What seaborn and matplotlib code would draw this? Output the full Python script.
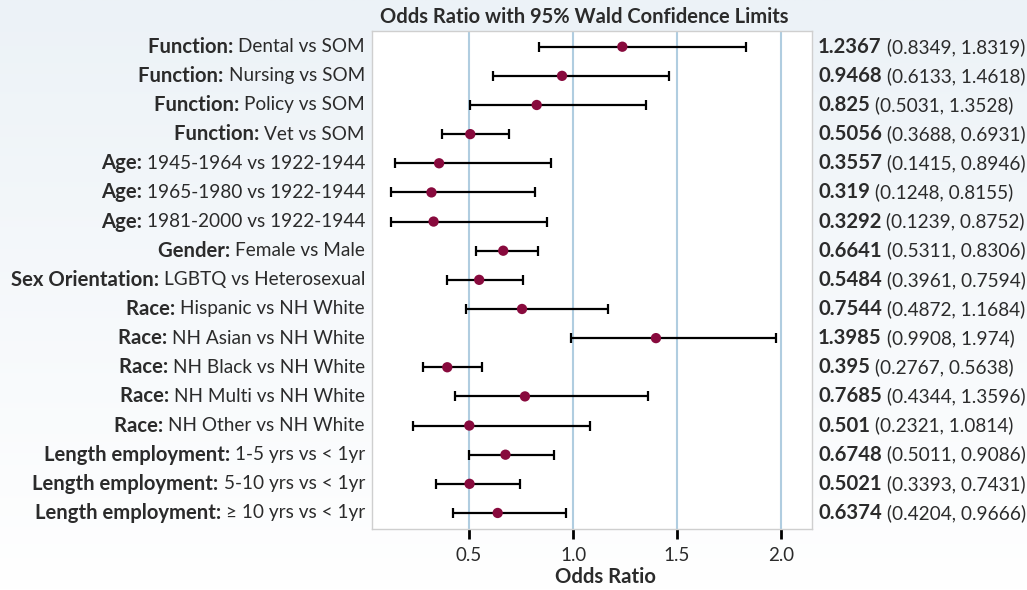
import numpy as np
import pandas as pd
import matplotlib.pyplot as plt
import seaborn as sns

# Data
groups = ["Function:", "Function:", "Function:", "Function:",
          "Age:", "Age:", "Age:", "Gender:", "Sex Orientation:",
          "Race:", "Race:", "Race:", "Race:", "Race:",
          "Length employment:", "Length employment:", "Length employment:"]
comparisons = ["Dental vs SOM", "Nursing vs SOM", "Policy vs SOM", "Vet vs SOM",
               "1945-1964 vs 1922-1944", "1965-1980 vs 1922-1944", "1981-2000 vs 1922-1944",
               "Female vs Male", "LGBTQ vs Heterosexual",
               "Hispanic vs NH White", "NH Asian vs NH White", "NH Black vs NH White",
               "NH Multi vs NH White", "NH Other vs NH White",
               "1-5 yrs vs < 1yr", "5-10 yrs vs < 1yr", "\u2265 10 yrs vs < 1yr"]
odds = ["1.2367", "0.9468", "0.825", "0.5056", "0.3557", "0.319", "0.3292", "0.6641",
        "0.5484", "0.7544", "1.3985", "0.395", "0.7685", "0.501", "0.6748", "0.5021", "0.6374"]
lower = ["0.8349", "0.6133", "0.5031", "0.3688", "0.1415", "0.1248", "0.1239", "0.5311",
         "0.3961", "0.4872", "0.9908", "0.2767", "0.4344", "0.2321", "0.5011", "0.3393", "0.4204"]
upper = ["1.8319", "1.4618", "1.3528", "0.6931", "0.8946", "0.8155", "0.8752", "0.8306",
         "0.7594", "1.1684", "1.974", "0.5638", "1.3596", "1.0814", "0.9086", "0.7431", "0.9666"]
xticks = [0.5, 1.0, 1.5, 2.0]

df = pd.DataFrame({
    "group": groups, "comp": comparisons,
    "odds": [float(v) for v in odds],
    "lo": [float(v) for v in lower],
    "hi": [float(v) for v in upper],
})
df["row"] = np.arange(len(df))

sns.set_theme(style="white")
FONT = ["Lato", "DejaVu Sans"]
plt.rcParams["font.family"] = FONT
TXT = "#2b2b2b"
FS = 13.7      # regular text
FSB = 14.6     # bold text

fig = plt.figure(figsize=(10.27, 5.9), dpi=100)

# background gradient
bg = fig.add_axes([0, 0, 1, 1], zorder=-10)
grad = np.linspace(0, 1, 256)[:, None]
top = np.array([0xEC, 0xF2, 0xF7]) / 255
bot = np.array([1.0, 1.0, 1.0])
img = top[None, None, :] * (1 - grad[:, :, None]) + bot[None, None, :] * grad[:, :, None]
bg.imshow(np.repeat(img, 2, axis=1), aspect="auto", extent=[0, 1, 0, 1])
bg.axis("off")

ax = fig.add_axes([0.3622, 0.1034, 0.4285, 0.8446])
ax.set_facecolor("white")

for x in xticks:
    ax.axvline(x, color="#b0cde0", lw=1.5, zorder=1)

ax.errorbar(df["odds"], df["row"],
            xerr=[df["odds"] - df["lo"], df["hi"] - df["odds"]],
            fmt="none", ecolor="black", elinewidth=1.6, capsize=3.6, capthick=1.6, zorder=2)
sns.scatterplot(data=df, x="odds", y="row", ax=ax, color="#880a3d", s=55,
                edgecolor="none", zorder=3, legend=False)

ax.set_xlim(0.033, 2.149)
ax.set_ylim(len(df) - 0.45, -0.55)
ax.set_yticks([])
ax.set_xticks(xticks)
ax.set_xticklabels([f"{x:.1f}" for x in xticks], fontsize=13.5, color=TXT)
ax.tick_params(axis="x", direction="out", length=7, width=2, color="black", pad=6, bottom=True)
for s in ax.spines.values():
    s.set_color("#cfcfcf")
    s.set_linewidth(1)
ax.set_xlabel("")
ax.set_ylabel("")

# row labels: bold prefix + regular remainder
ytr = ax.get_yaxis_transform()
for _, r in df.iterrows():
    t = ax.text(-0.016, r["row"], r["comp"], transform=ytr, ha="right", va="center",
                fontsize=FS, color=TXT)
    ax.annotate(r["group"] + " ", xy=(0, 0.5), xycoords=t, ha="right", va="center",
                fontsize=FSB, fontweight="bold", color=TXT)
    t2 = ax.text(1.0136, r["row"], odds[r["row"]], transform=ytr, ha="left", va="center",
                 fontsize=FSB, fontweight="bold", color=TXT)
    ax.annotate(f" ({lower[r['row']]}, {upper[r['row']]})", xy=(1, 0.5), xycoords=t2,
                ha="left", va="center", fontsize=FS, color=TXT)

fig.text(584 / 1027, 1 - 17 / 590, "Odds Ratio with 95% Wald Confidence Limits",
         ha="center", va="center", fontsize=14.5, fontweight="bold", color=TXT)
fig.text(605 / 1027, 1 - 577 / 590, "Odds Ratio", ha="center", va="center",
         fontsize=FSB, fontweight="bold", color=TXT)

fig.savefig("out.png", dpi=100)
